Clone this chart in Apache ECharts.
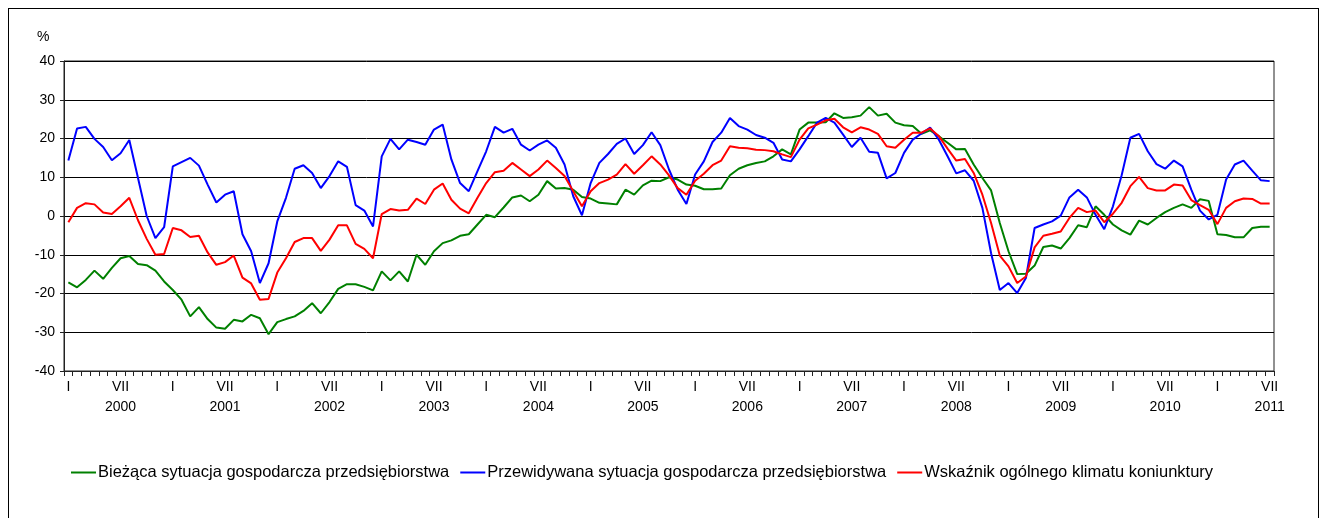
<!DOCTYPE html>
<html>
<head>
<meta charset="utf-8">
<script src="https://cdn.jsdelivr.net/npm/echarts@6/dist/echarts.min.js"></script>
<style>
  html, body { margin: 0; padding: 0; background: #fff; }
  #frame { position: absolute; left: 8px; top: 8px; width: 1311px; height: 530px; border: 1px solid #000; box-sizing: border-box; }
  #chart { position: absolute; left: 0; top: 0; width: 1324px; height: 518px; }
</style>
</head>
<body>
<div id="frame"></div>
<div id="chart"></div>
<script>
// miesiące I.2000 – VII.2011
const years = ['2000', '2001', '2002', '2003', '2004', '2005', '2006', '2007', '2008', '2009', '2010', '2011']
const monthLabels = { 0: 'I', 6: 'VII' }

const biezaca = [
  -17.1, -18.4, -16.5, -14.1, -16.2, -13.4, -10.9, -10.3, -12.4, -12.7, -14.1, -16.9,
  -19.1, -21.6, -25.9, -23.5, -26.6, -28.8, -29.1, -26.8, -27.2, -25.5, -26.4, -30.5,
  -27.4, -26.6, -25.9, -24.5, -22.5, -25.1, -22.2, -18.8, -17.6, -17.6, -18.3, -19.2,
  -14.3, -16.6, -14.3, -16.9, -10.0, -12.6, -9.1, -7.0, -6.3, -5.1, -4.7, -2.2,
  0.3, -0.3, 2.2, 4.8, 5.3, 3.8, 5.5, 9.0, 7.1, 7.2, 6.8, 4.9,
  4.5, 3.4, 3.2, 3.0, 6.8, 5.5, 7.9, 9.1, 9.0, 10.0, 9.4, 8.1,
  7.8, 6.9, 6.9, 7.1, 10.5, 12.2, 13.1, 13.7, 14.1, 15.4, 17.2, 15.9,
  22.3, 24.1, 24.1, 24.2, 26.5, 25.3, 25.5, 25.9, 28.1, 25.9, 26.4, 24.1,
  23.4, 23.2, 21.2, 22.1, 20.6, 18.9, 17.2, 17.3, 13.3, 9.8, 6.6, -1.8,
  -9.1, -15.0, -14.9, -12.8, -8.0, -7.6, -8.4, -5.7, -2.4, -2.9, 2.5, 0.3,
  -2.2, -3.7, -4.8, -1.2, -2.2, -0.5, 1.0, 2.1, 3.0, 2.1, 4.3, 3.9,
  -4.7, -4.9, -5.5, -5.5, -3.1, -2.8, -2.8,
]

const przewidywana = [
  14.3, 22.6, 23.0, 19.9, 17.8, 14.4, 16.2, 19.6, 9.8, 0.0, -5.7, -2.9,
  12.8, 13.9, 15.0, 13.0, 8.1, 3.5, 5.5, 6.4, -4.7, -9.1, -17.3, -12.2,
  -1.4, 4.7, 12.2, 13.1, 11.1, 7.2, 10.3, 14.1, 12.7, 2.8, 1.4, -2.7,
  15.4, 19.9, 17.2, 19.7, 19.1, 18.4, 22.3, 23.6, 14.6, 8.5, 6.4, 11.6,
  16.7, 23.0, 21.5, 22.5, 18.4, 16.9, 18.4, 19.5, 17.6, 13.3, 5.1, 0.2,
  8.5, 13.7, 16.0, 18.6, 20.0, 16.0, 18.3, 21.6, 18.3, 12.0, 6.8, 3.1,
  10.7, 14.1, 19.1, 21.5, 25.3, 23.2, 22.3, 20.9, 20.2, 18.9, 14.6, 14.1,
  17.2, 20.6, 24.1, 25.3, 24.1, 21.0, 17.8, 20.2, 16.6, 16.3, 9.7, 11.1,
  16.3, 19.7, 21.3, 22.8, 19.7, 15.4, 11.0, 11.8, 9.1, 2.1, -9.6, -19.1,
  -17.3, -19.9, -16.0, -3.1, -2.2, -1.4, 0.1, 4.8, 6.8, 4.8, 0.3, -3.4,
  2.5, 10.5, 20.2, 21.2, 16.7, 13.4, 12.2, 14.3, 12.8, 6.8, 1.4, -0.9,
  0.3, 9.4, 13.3, 14.3, 11.7, 9.2, 9.0,
]

const wskaznik = [
  -1.6, 2.1, 3.3, 3.0, 0.9, 0.5, 2.5, 4.7, -1.1, -5.9, -10.0, -9.8,
  -3.1, -3.7, -5.4, -5.1, -9.4, -12.6, -11.9, -10.2, -15.9, -17.4, -21.6, -21.4,
  -14.6, -10.9, -6.7, -5.7, -5.7, -9.0, -6.1, -2.4, -2.4, -7.2, -8.5, -10.9,
  0.5, 1.8, 1.4, 1.6, 4.5, 3.1, 6.8, 8.4, 4.2, 1.9, 0.7, 4.7,
  8.5, 11.3, 11.7, 13.7, 12.0, 10.3, 12.0, 14.3, 12.4, 10.3, 6.4, 2.5,
  6.4, 8.5, 9.4, 10.7, 13.4, 10.9, 13.1, 15.4, 13.3, 10.5, 7.2, 5.5,
  9.1, 10.9, 13.1, 14.3, 18.0, 17.6, 17.5, 17.1, 17.0, 16.7, 15.9, 15.2,
  19.7, 22.6, 23.6, 24.7, 25.1, 22.9, 21.6, 22.9, 22.3, 21.2, 18.0, 17.6,
  19.7, 21.5, 21.5, 22.6, 20.6, 17.4, 14.3, 14.7, 11.1, 5.5, -1.8, -10.2,
  -13.0, -17.3, -15.6, -8.1, -5.1, -4.6, -4.0, -0.5, 2.1, 1.0, 1.4, -1.6,
  0.6, 3.4, 7.7, 10.1, 7.2, 6.6, 6.6, 8.1, 7.9, 4.1, 2.8, 1.6,
  -2.1, 2.1, 3.8, 4.5, 4.4, 3.2, 3.2,
]

const categories = biezaca.map((_, i) => years[Math.floor(i / 12)] + '-' + String((i % 12) + 1).padStart(2, '0'))

const seriesNames = [
  'Bieżąca sytuacja gospodarcza przedsiębiorstwa',
  'Przewidywana sytuacja gospodarcza przedsiębiorstwa',
  'Wskaźnik ogólnego klimatu koniunktury',
]
const colors = ['#008000', '#0000ff', '#ff0000']

const font = 'Liberation Sans, Arial, sans-serif'
const chart = echarts.init(document.getElementById('chart'), null, { renderer: 'canvas' })

chart.setOption({
  animation: false,
  color: colors,
  textStyle: { fontFamily: font },
  grid: {
    left: 64, right: 50, top: 61, bottom: 147,
    show: true, borderColor: '#222', borderWidth: 1, backgroundColor: 'transparent',
  },
  graphic: [
    { type: 'text', left: 37, top: 30, style: { text: '%', fontSize: 14, fontFamily: font, fill: '#000' } },
  ],
  legend: {
    left: 66,
    top: 459,
    icon: 'rect',
    itemWidth: 25,
    itemHeight: 2,
    itemGap: 11,
    textStyle: { fontSize: 16.5, color: '#000', fontFamily: font, padding: [0, 0, 0, -3] },
    data: seriesNames,
  },
  xAxis: {
    type: 'category',
    data: categories,
    boundaryGap: true,
    axisLine: { onZero: false, lineStyle: { color: '#222', width: 1 } },
    axisTick: { show: true, interval: 0, length: 5, lineStyle: { color: '#222' } },
    axisLabel: {
      interval: 0,
      color: '#000',
      fontSize: 14,
      lineHeight: 20,
      margin: 6,
      formatter: (v, idx) => {
        const m = idx % 12
        if (!(m in monthLabels)) return ''
        return m === 6 ? monthLabels[m] + '\n' + v.slice(0, 4) : monthLabels[m]
      },
    },
    splitLine: { show: false },
  },
  yAxis: {
    type: 'value',
    min: -40,
    max: 40,
    interval: 10,
    axisLine: { show: true, lineStyle: { color: '#222', width: 1 } },
    axisTick: { show: true, length: 4, lineStyle: { color: '#222' } },
    axisLabel: { color: '#000', fontSize: 14, margin: 9 },
    splitLine: { show: true, lineStyle: { color: '#000', width: 1 } },
  },
  series: [biezaca, przewidywana, wskaznik].map((d, k) => ({
    name: seriesNames[k],
    type: 'line',
    data: d,
    symbol: 'none',
    lineStyle: { width: 2, color: colors[k] },
    itemStyle: { color: colors[k] },
  })),
})
</script>
</body>
</html>
